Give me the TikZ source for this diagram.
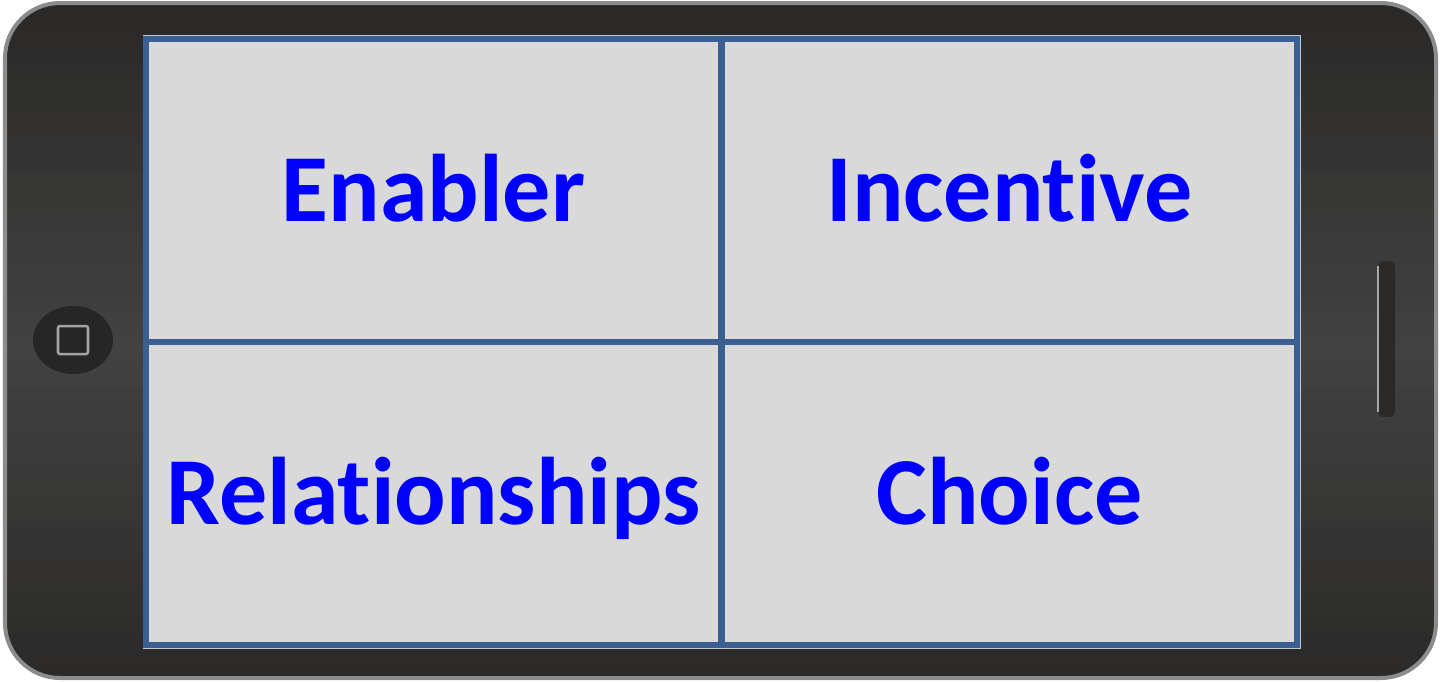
\documentclass[tikz,border=0pt]{standalone}
\usepackage{fontspec}
\setmainfont{Carlito}[Ligatures={NoCommon}]
\definecolor{body}{HTML}{2A2928}
\definecolor{bodymid}{HTML}{424242}
\definecolor{rim}{HTML}{8C8C8C}
\definecolor{frame}{HTML}{3A6091}
\definecolor{cellgray}{HTML}{D9D9D9}
\definecolor{button}{HTML}{262626}
\begin{document}
\begin{tikzpicture}[x=0.01cm,y=-0.01cm,
    cell/.style={draw=frame,fill=cellgray,line width=0.06cm,minimum width=5.75cm,minimum height=3.03cm,inner sep=0pt,outer sep=0pt},
    word/.style={text=blue,font=\fontsize{27.3}{31}\selectfont\bfseries,text height=0.62cm,text depth=0pt,inner sep=0pt}]
  \useasboundingbox (0,0) rectangle (1441,681);
  % phone body, shaded by strips
  \begin{scope}
    \clip[rounded corners=0.55cm] (5,3) rectangle (1436,678);
    \foreach \i in {0,...,44} {
      \pgfmathsetmacro\m{100*(1-abs(\i-22)/22)}
      \fill[bodymid!\m!body] (0,{3+\i*15.4}) rectangle (1441,{3+(\i+1)*15.4+1});
    }
  \end{scope}
  \draw[rim,line width=0.04cm,rounded corners=0.55cm] (5,3) rectangle (1436,678);
  % home button and side slot
  \fill[button] (73,340) circle [x radius=0.4cm,y radius=0.34cm];
  \draw[rim!80,line width=0.025cm,rounded corners=0.02cm] (58,326) rectangle (88,354);
  \fill[body,rounded corners=0.06cm] (1378,261) rectangle (1395,417);
  \draw[gray!70,line width=0.015cm] (1378,266) -- (1378,412);
  % screen
  \draw[gray!45,line width=0.01cm] (143,35.5) rectangle (1300.5,648.5);
  \node[cell] (enabler) at (433.5,190.5) {};
  \node[cell] (incentive) at (1009.5,190.5) {};
  \node[cell] (relationships) at (433.5,493.5) {};
  \node[cell] (choice) at (1009.5,493.5) {};
  \node[word] (tenabler) at (enabler) {Enabler};
  \node[word] (tincentive) at (incentive) {Incentive};
  \node[word] (trelationships) at (relationships) {Relationships};
  \node[word] (tchoice) at (choice) {Choice};
\end{tikzpicture}
\end{document}
